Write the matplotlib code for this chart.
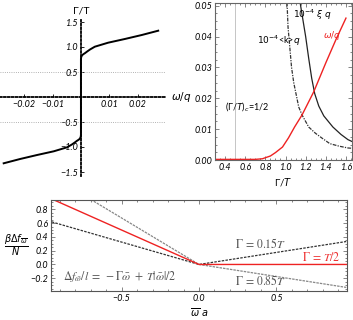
import matplotlib
matplotlib.use('Agg')
import matplotlib.pyplot as plt
from matplotlib.ticker import MultipleLocator

plt.rcParams['font.family'] = ['Lato', 'DejaVu Sans']
plt.rcParams['mathtext.fontset'] = 'dejavusans'

# ---- left panel: Gamma/T vs omega/q
omega_left = [0, 0, 0.0001, 0.0004, 0.0009, 0.0014, 0.0022, 0.0032, 0.0049, 0.0096,
              0.0155, 0.0215, 0.0273]
gamma_left = [0, 0.76, 0.80, 0.835, 0.858, 0.876, 0.91, 0.95, 1.006, 1.086,
              1.16, 1.24, 1.326]
xticks_left = [-0.02, -0.01, 0.01, 0.02]
xtick_labels_left = ['\u22120.02', '\u22120.01', '0.01', '0.02']
yticks_left = [-1.5, -1.0, -0.5, 0.5, 1.0, 1.5]
ytick_labels_left = ['\u22121.5', '\u22121.0', '\u22120.5', '0.5', '1.0', '1.5']

# ---- right panel: omega/q, <k>, xi vs Gamma/T
gamma_red = [0.3, 0.7, 0.77, 0.85, 0.9, 0.97, 1.03, 1.09, 1.164, 1.28, 1.4, 1.5, 1.6]
omega_red = [0.0002, 0.0002, 0.0004, 0.0013, 0.0024, 0.0042, 0.0072, 0.0107, 0.0146,
             0.0221, 0.0315, 0.039, 0.046]
gamma_xi = [1.145, 1.17, 1.2, 1.23, 1.26, 1.29, 1.33, 1.38, 1.47, 1.55, 1.62, 1.66]
xi_q = [0.051, 0.046, 0.040, 0.033, 0.0265, 0.0215, 0.0175, 0.0143, 0.0107, 0.0083,
        0.0066, 0.006]
gamma_k = [1.015, 1.025, 1.045, 1.06, 1.082, 1.131, 1.164, 1.23, 1.296, 1.362, 1.44,
           1.53, 1.62, 1.66]
k_q = [0.051, 0.0431, 0.0356, 0.030, 0.025, 0.0172, 0.0146, 0.0107, 0.0087, 0.0071,
       0.0053, 0.0045, 0.0039, 0.0038]
gamma_crit = 0.5

# ---- bottom panel: beta*Delta f / N vs omega_bar a
omega_bar = [-0.95, 0.0, 0.95]
f_015 = [0.6175, 0.0, 0.3325]
f_050 = [0.95, 0.0, 0.0]
f_085 = [1.2825, 0.0, -0.3325]

W, H = 353, 320
fig = plt.figure(figsize=(W / 100, H / 100), dpi=100)

def pos(x0, y0, x1, y1):
    return [x0 / W, 1 - y1 / H, (x1 - x0) / W, (y1 - y0) / H]

tick_font = dict(fontsize=6.5, fontstyle='italic')

# ================= left panel
ax1 = fig.add_axes(pos(0, 20, 165, 176))
ax1.set_xlim(-0.0286, 0.0297)
ax1.set_ylim(-1.58, 1.54)
ax1.axhline(0.5, color='#999999', lw=0.6, ls=':')
ax1.axhline(-0.5, color='#999999', lw=0.6, ls=':')
x_full = [-w for w in omega_left[::-1]] + omega_left
y_full = [-g for g in gamma_left[::-1]] + gamma_left
ax1.plot(x_full, y_full, color='black', lw=1.4, solid_joinstyle='round')
for s in ['top', 'right']:
    ax1.spines[s].set_visible(False)
ax1.spines['left'].set_position(('data', 0))
ax1.spines['bottom'].set_position(('data', 0))
for s in ['left', 'bottom']:
    ax1.spines[s].set_linestyle((0, (1, 1.2)))
    ax1.spines[s].set_linewidth(1.3)
ax1.set_xticks(xticks_left)
ax1.set_xticklabels(xtick_labels_left, **tick_font)
ax1.set_yticks(yticks_left)
ax1.set_yticklabels(ytick_labels_left, **tick_font)
ax1.tick_params(length=2, width=0.6, pad=2, direction='in')
ax1.text(0.0, 1.72, '\u0393/T', ha='center', va='center', fontsize=7.5)
ax1.text(0.0318, 0.0, '$\\omega/q$', ha='left', va='center', fontsize=7.5)
ax1.patch.set_alpha(0)

# ================= right panel
ax2 = fig.add_axes(pos(215, 3, 352, 160))
ax2.set_xlim(0.3, 1.66)
ax2.set_ylim(0, 0.0509)
ax2.axvline(gamma_crit, color='#bbbbbb', lw=0.6)
ax2.plot(gamma_k, k_q, color='#333333', lw=0.9, ls=(0, (3, 1, 1, 1)))
ax2.plot(gamma_xi, xi_q, color='#222222', lw=0.9)
ax2.plot(gamma_red, omega_red, color='#ee2222', lw=1.0)
ax2.xaxis.set_minor_locator(MultipleLocator(0.05))
ax2.yaxis.set_minor_locator(MultipleLocator(0.0025))
ax2.set_xticks([0.4, 0.6, 0.8, 1.0, 1.2, 1.4, 1.6])
ax2.set_xticklabels(['0.4', '0.6', '0.8', '1.0', '1.2', '1.4', '1.6'], **tick_font)
ax2.set_yticks([0, 0.01, 0.02, 0.03, 0.04, 0.05])
ax2.set_yticklabels(['0.00', '0.01', '0.02', '0.03', '0.04', '0.05'], **tick_font)
ax2.tick_params(which='both', direction='in', top=True, right=True, width=0.5,
                color='#555555', pad=2)
ax2.tick_params(which='major', length=3)
ax2.tick_params(which='minor', length=1.5)
for s in ax2.spines.values():
    s.set_color('#666666')
    s.set_linewidth(0.8)
ax2.text(1.075, 0.0470, '$10^{-4}\\ \\xi\\ q$', fontsize=6.5, va='center')
ax2.text(0.72, 0.0385, '$10^{-4}$<k>$q$', fontsize=6.5, va='center')
ax2.text(1.37, 0.0405, '$\\omega/q$', fontsize=6.5, va='center', color='#ee2222')
ax2.text(0.40, 0.0172, '(\u0393/$T$)$_c$=1/2', fontsize=6.5, va='center')
ax2.text(0.98, -0.0072, '\u0393/$T$', fontsize=7, ha='center', va='center')

# ================= bottom panel
ax3 = fig.add_axes(pos(51, 200, 347, 291))
ax3.set_xlim(-0.955, 0.955)
ax3.set_ylim(-0.385, 0.935)
ax3.plot(omega_bar, f_085, color='#888888', lw=0.9, ls=(0, (2, 0.8)))
ax3.plot(omega_bar, f_015, color='#333333', lw=0.9, ls=(0, (2, 1)))
ax3.plot(omega_bar, f_050, color='#ee2222', lw=1.0)
ax3.xaxis.set_minor_locator(MultipleLocator(0.1))
ax3.yaxis.set_minor_locator(MultipleLocator(0.05))
ax3.set_xticks([-0.5, 0.0, 0.5])
ax3.set_xticklabels(['\u22120.5', '0.0', '0.5'], **tick_font)
ax3.set_yticks([-0.2, 0.0, 0.2, 0.4, 0.6, 0.8])
ax3.set_yticklabels(['\u22120.2', '0.0', '0.2', '0.4', '0.6', '0.8'], **tick_font)
ax3.tick_params(which='both', direction='in', top=True, right=True, width=0.5,
                color='#555555', pad=2)
ax3.tick_params(which='major', length=3)
ax3.tick_params(which='minor', length=1.5)
for s in ax3.spines.values():
    s.set_color('#555555')
    s.set_linewidth(0.8)
serif = dict(math_fontfamily='stix', fontsize=8.5)
ax3.text(0.40, 0.31, '$\\Gamma\\,=\\,0.15T$', ha='center', va='center',
         color='#555555', **serif)
ax3.text(0.79, 0.11, '$\\Gamma\\,=\\,T/2$', ha='center', va='center',
         color='#ee3333', **serif)
ax3.text(0.40, -0.22, '$\\Gamma\\,=\\,0.85T$', ha='center', va='center',
         color='#555555', **serif)
ax3.text(-0.875, -0.18,
         '$\\Delta f_{\\bar{\\omega}}/l\\;=\\;-\\Gamma\\bar{\\omega}\\;+\\;T|\\bar{\\omega}|/2$',
         ha='left', va='center', color='#555555', **serif)
fig.text(16 / W, 1 - 245 / H, '$\\frac{\\beta\\Delta f_{\\overline{\\omega}}}{N}$',
         ha='center', va='center', fontsize=10)
fig.text(199 / W, 1 - 313 / H, '$\\overline{\\omega}\\ a$', ha='center', va='center',
         fontsize=7)

fig.savefig('out.png', dpi=100)
